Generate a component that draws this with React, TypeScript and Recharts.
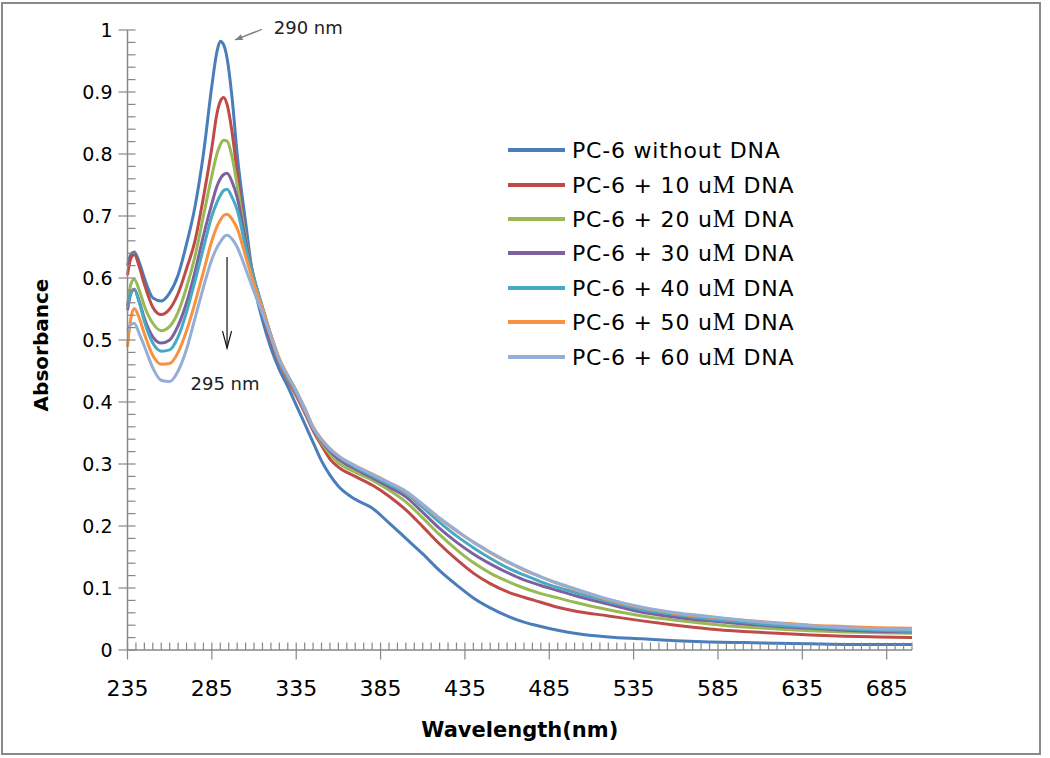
import React from "react";
import { LineChart, Line, XAxis, YAxis, Legend, ReferenceLine } from "recharts";

// wavelength samples (nm)
const wavelengths = [
  235, 237, 239, 242, 245, 250, 255, 260, 265, 270, 275, 280, 285, 288, 290, 292, 294, 297, 300,
  305, 310, 315, 320, 325, 330, 335, 340, 345, 350, 355, 360, 370, 380, 390, 400, 410, 420,
  430, 440, 450, 460, 470, 480, 490, 500, 520, 540, 560, 580, 600, 620, 640, 660, 680, 700,
];

const noDna = [
  0.62, 0.638, 0.642, 0.625, 0.6, 0.568, 0.563, 0.576, 0.605, 0.655, 0.715, 0.8, 0.91, 0.965, 0.982, 0.976, 0.955, 0.89, 0.8,
  0.69, 0.59, 0.532, 0.487, 0.452, 0.425, 0.395, 0.365, 0.335, 0.305, 0.282, 0.264, 0.243, 0.229, 0.205, 0.18, 0.155, 0.128,
  0.105, 0.084, 0.068, 0.055, 0.045, 0.038, 0.032, 0.027, 0.021, 0.018, 0.015, 0.013, 0.012, 0.011, 0.01, 0.009, 0.009, 0.009,
];
const dna10 = [
  0.605, 0.632, 0.638, 0.618, 0.59, 0.553, 0.541, 0.55, 0.575, 0.615, 0.66, 0.73, 0.81, 0.865, 0.885, 0.891, 0.88, 0.835, 0.77,
  0.665, 0.595, 0.545, 0.5, 0.463, 0.435, 0.41, 0.383, 0.354, 0.33, 0.308, 0.295, 0.28, 0.266, 0.248, 0.226, 0.199, 0.171,
  0.146, 0.124, 0.107, 0.094, 0.085, 0.077, 0.069, 0.063, 0.055, 0.047, 0.04, 0.034, 0.03, 0.027, 0.024, 0.022, 0.021, 0.02,
];
const dna20 = [
  0.554, 0.59, 0.598, 0.58, 0.555, 0.527, 0.515, 0.522, 0.545, 0.585, 0.635, 0.7, 0.765, 0.8, 0.815, 0.822, 0.821, 0.795, 0.75,
  0.665, 0.6, 0.55, 0.505, 0.465, 0.438, 0.413, 0.386, 0.357, 0.334, 0.316, 0.302, 0.287, 0.274, 0.258, 0.239, 0.213, 0.186,
  0.162, 0.141, 0.124, 0.111, 0.1, 0.091, 0.084, 0.077, 0.065, 0.055, 0.048, 0.042, 0.037, 0.034, 0.031, 0.029, 0.028, 0.027,
];
const dna30 = [
  0.548, 0.575, 0.582, 0.562, 0.535, 0.505, 0.495, 0.5, 0.523, 0.56, 0.61, 0.668, 0.72, 0.748, 0.76, 0.767, 0.769, 0.755, 0.73,
  0.66, 0.6, 0.552, 0.507, 0.467, 0.44, 0.415, 0.388, 0.358, 0.337, 0.321, 0.308, 0.292, 0.278, 0.263, 0.247, 0.222, 0.196,
  0.174, 0.155, 0.139, 0.125, 0.113, 0.104, 0.096, 0.088, 0.074, 0.061, 0.053, 0.047, 0.042, 0.038, 0.035, 0.032, 0.03, 0.029,
];
const dna40 = [
  0.555, 0.577, 0.581, 0.56, 0.53, 0.495, 0.482, 0.484, 0.505, 0.545, 0.595, 0.648, 0.7, 0.722, 0.733, 0.741, 0.743, 0.73, 0.71,
  0.65, 0.598, 0.553, 0.508, 0.468, 0.442, 0.418, 0.39, 0.359, 0.339, 0.324, 0.312, 0.295, 0.281, 0.267, 0.253, 0.23, 0.206,
  0.184, 0.165, 0.148, 0.133, 0.121, 0.11, 0.101, 0.093, 0.078, 0.065, 0.057, 0.05, 0.045, 0.04, 0.037, 0.034, 0.032, 0.03,
];
const dna50 = [
  0.489, 0.535, 0.551, 0.535, 0.51, 0.475, 0.461, 0.462, 0.48, 0.515, 0.56, 0.61, 0.66, 0.683, 0.693, 0.701, 0.703, 0.695, 0.68,
  0.635, 0.59, 0.55, 0.508, 0.47, 0.443, 0.418, 0.39, 0.36, 0.34, 0.325, 0.313, 0.297, 0.284, 0.27, 0.255, 0.234, 0.212,
  0.192, 0.174, 0.157, 0.142, 0.129, 0.118, 0.107, 0.098, 0.081, 0.068, 0.059, 0.053, 0.048, 0.044, 0.04, 0.038, 0.036, 0.035,
];
const dna60 = [
  0.515, 0.525, 0.527, 0.51, 0.49, 0.455, 0.435, 0.433, 0.45, 0.485, 0.535, 0.585, 0.63, 0.649, 0.658, 0.666, 0.669, 0.663, 0.65,
  0.615, 0.578, 0.543, 0.505, 0.468, 0.442, 0.417, 0.389, 0.359, 0.339, 0.324, 0.313, 0.297, 0.283, 0.27, 0.256, 0.235, 0.213,
  0.193, 0.174, 0.158, 0.143, 0.13, 0.118, 0.108, 0.099, 0.082, 0.069, 0.06, 0.054, 0.048, 0.043, 0.039, 0.036, 0.034, 0.033,
];

const seriesNames = [
  "PC-6 without DNA",
  "PC-6 + 10 uM DNA",
  "PC-6 + 20 uM DNA",
  "PC-6 + 30 uM DNA",
  "PC-6 + 40 uM DNA",
  "PC-6 + 50 uM DNA",
  "PC-6 + 60 uM DNA",
];
const seriesColors = ["#4A7EBB", "#BE4B48", "#98B954", "#7D60A0", "#46AAC5", "#F69240", "#94AED8"];
const seriesValues = [noDna, dna10, dna20, dna30, dna40, dna50, dna60];

const xLabels = [235, 285, 335, 385, 435, 485, 535, 585, 635, 685];
const yLabels = [0, 0.1, 0.2, 0.3, 0.4, 0.5, 0.6, 0.7, 0.8, 0.9, 1];

// minor ticks: every 5 nm, every 0.02 absorbance
const xTicks = Array.from({ length: 94 }, (_, i) => 235 + i * 5);
const yTicks = Array.from({ length: 51 }, (_, i) => Math.round(i * 2) / 100);

const data = wavelengths.map((w, i) => {
  const row: Record<string, number> = { w };
  seriesValues.forEach((vals, k) => (row["s" + k] = vals[i]));
  return row;
});

const FONT = "DejaVu Sans";
const AXIS = "#888888";

const XTick = (props: any) => {
  const { x, y, payload } = props;
  const major = xLabels.includes(payload.value);
  return (
    <g>
      <line x1={x} x2={x} y1={y - 7.5} y2={major ? y + 9.5 : y} stroke={AXIS} strokeWidth={1.2} />
      {major && (
        <text x={x} y={y + 46} textAnchor="middle" fontFamily={FONT} fontSize={22} fill="#000">
          {payload.value}
        </text>
      )}
    </g>
  );
};

const YTick = (props: any) => {
  const { x, y, payload } = props;
  const major = yLabels.some((v) => Math.abs(v - payload.value) < 1e-6);
  return (
    <g>
      <line x1={major ? x - 9 : x} x2={x + 8} y1={y} y2={y} stroke={AXIS} strokeWidth={1.2} />
      {major && (
        <text x={x - 15} y={y + 7} textAnchor="end" fontFamily={FONT} fontSize={19} fill="#000">
          {String(payload.value)}
        </text>
      )}
    </g>
  );
};

const renderName = (name: string) => {
  const parts = name.split("uM");
  if (parts.length < 2) return name;
  return (
    <>
      {parts[0]}u<span style={{ fontFamily: "Liberation Serif", fontSize: 25 }}>M</span>
      {parts[1]}
    </>
  );
};

const LegendBox = () => (
  <div style={{ fontFamily: FONT, fontSize: 22, letterSpacing: 0.8, color: "#000" }}>
    {seriesNames.map((name, i) => (
      <div key={name} style={{ display: "flex", alignItems: "center", height: 34.4 }}>
        <div style={{ width: 57, height: 4, background: seriesColors[i], marginLeft: 3, marginRight: 7 }} />
        <span style={{ whiteSpace: "nowrap" }}>{renderName(name)}</span>
      </div>
    ))}
  </div>
);

const GrayArrow = (props: any) => {
  const { x1, y1, x2, y2 } = props;
  const a = Math.atan2(y2 - y1, x2 - x1);
  const h = 8;
  const p1 = `${x2 - h * Math.cos(a - 0.4)},${y2 - h * Math.sin(a - 0.4)}`;
  const p2 = `${x2 - h * Math.cos(a + 0.4)},${y2 - h * Math.sin(a + 0.4)}`;
  return (
    <g>
      <line x1={x1} y1={y1} x2={x2} y2={y2} stroke="#808080" strokeWidth={1.5} />
      <polygon points={`${x2},${y2} ${p1} ${p2}`} fill="#808080" />
      <text x={x1 + 12} y={y1 + 5} fontFamily={FONT} fontSize={18} fill="#222">
        290 nm
      </text>
    </g>
  );
};

const BlackArrow = (props: any) => {
  const { x1, y1, x2, y2 } = props;
  return (
    <g>
      <line x1={x1} y1={y1} x2={x2} y2={y2} stroke="#111" strokeWidth={1.2} />
      <polyline points={`${x2 - 4.5},${y2 - 17} ${x2},${y2} ${x2 + 4.5},${y2 - 17}`} fill="none" stroke="#111" strokeWidth={1.2} />
      <text x={x2 - 2} y={y2 + 42} textAnchor="middle" fontFamily={FONT} fontSize={18} fill="#222">
        295 nm
      </text>
    </g>
  );
};

export default function App() {
  return (
    <div style={{ position: "absolute", left: 0, top: 0, width: 1050, height: 758, background: "#fff" }}>
      <div
        style={{
          position: "absolute", left: 1, top: 2, width: 1036, height: 749,
          border: "2px solid #8a8a8a",
        }}
      />
      <div style={{ position: "absolute", left: 0, top: 0 }}>
        <LineChart width={1050} height={758} data={data} margin={{ top: 30, right: 138, bottom: 0, left: 27.5 }}>
          <XAxis
            dataKey="w"
            type="number"
            domain={[235, 700]}
            ticks={xTicks}
            interval={0}
            tickSize={0}
            tickMargin={0}
            tickLine={false}
            axisLine={{ stroke: AXIS, strokeWidth: 1.5 }}
            tick={<XTick />}
            height={108}
            label={{
              value: "Wavelength(nm)", position: "insideBottom", offset: 21,
              fontFamily: FONT, fontSize: 21, fontWeight: "bold", fill: "#000",
            }}
          />
          <YAxis
            type="number"
            domain={[0, 1]}
            ticks={yTicks}
            interval={0}
            tickSize={0}
            tickMargin={0}
            tickLine={false}
            axisLine={{ stroke: AXIS, strokeWidth: 1.5 }}
            tick={<YTick />}
            width={100}
            label={{
              content: (p: any) => {
                const vb = p.viewBox;
                const cx = vb.x + 13;
                const cy = vb.y + vb.height / 2 + 5;
                return (
                  <text x={cx} y={cy} transform={`rotate(-90 ${cx} ${cy})`} textAnchor="middle"
                    dominantBaseline="central" fontFamily={FONT} fontSize={20} fontWeight="bold" fill="#000">
                    Absorbance
                  </text>
                );
              },
            }}
          />
          {seriesNames.map((name, k) => (
            <Line
              key={name}
              dataKey={"s" + k}
              name={name}
              type="monotone"
              stroke={seriesColors[k]}
              strokeWidth={3}
              dot={false}
              isAnimationActive={false}
            />
          ))}
          <ReferenceLine
            segment={[{ x: 314.6, y: 1.001 }, { x: 298.8, y: 0.984 }]}
            ifOverflow="visible"
            shape={GrayArrow}
          />
          <ReferenceLine
            segment={[{ x: 294, y: 0.634 }, { x: 294, y: 0.487 }]}
            ifOverflow="visible"
            shape={BlackArrow}
          />
          <Legend
            layout="vertical"
            align="center"
            verticalAlign="middle"
            content={<LegendBox />}
            wrapperStyle={{ left: 505, top: 133, width: 340 }}
          />
        </LineChart>
      </div>
    </div>
  );
}
